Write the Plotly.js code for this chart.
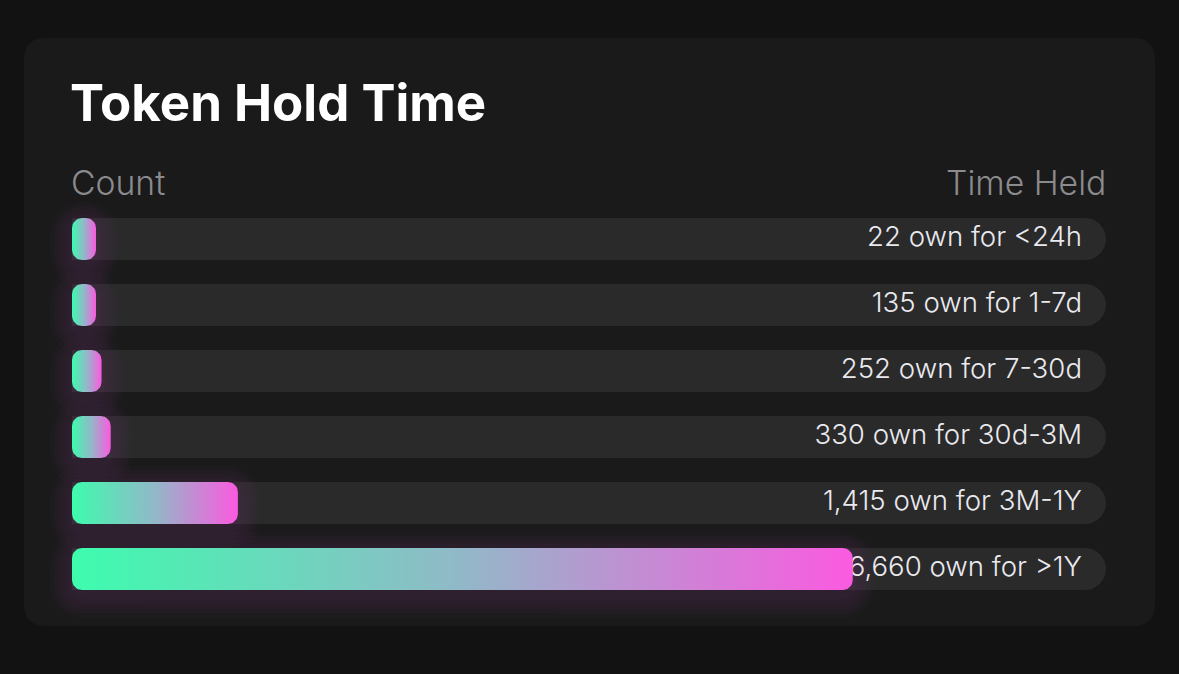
<!DOCTYPE html>
<html>
<head>
<meta charset="utf-8">
<script src="https://cdn.plot.ly/plotly-3.0.1.min.js"></script>
<style>
html,body{margin:0;padding:0;background:#121212;}
#chart{width:1179px;height:674px;}
</style>
</head>
<body>
<div id="chart"></div>
<script>
// ---- data ----
const periods = ["<24h", "1-7d", "7-30d", "30d-3M", "3M-1Y", ">1Y"];
const counts = [22, 135, 252, 330, 1415, 6660];
const titleText = "Token Hold Time";
const leftHeader = "Count";
const rightHeader = "Time Held";

// ---- layout constants ----
const W = 1179, H = 674;
const trackX0 = 72, trackX1 = 1106, rowsTop = 206, rowPx = 66;
const padPx = 30;
const M = {l: trackX0 - padPx, r: W - trackX1 - padPx, t: rowsTop - padPx, b: H - (rowsTop + rowPx * periods.length) - padPx};
const plotW = W - M.l - M.r, plotH = H - M.t - M.b;
const xMax = 8820;                 // scale end (track length)
const uPerPx = xMax / (trackX1 - trackX0);
const barPx = 42;
const halfH = (barPx / 2) / rowPx;
const minBarPx = 24;
const yPad = padPx / rowPx;

function px2paperX(px){ return (px - M.l) / plotW; }
function px2paperY(py){ return 1 - (py - M.t) / plotH; }

function roundRect(x0, x1, yc, hh, rPx, padP, dyPx){
  const pad = padP || 0, dy = (dyPx || 0) / rowPx;
  const ax0 = x0 - pad * uPerPx, ax1 = x1 + pad * uPerPx;
  const top = yc - hh - pad / rowPx + dy, bot = yc + hh + pad / rowPx + dy;
  const r = rPx + pad;
  const rx = r * uPerPx, ry = r / rowPx;
  const xs = [], ys = [];
  const corners = [
    [ax1 - rx, top + ry, -Math.PI/2, 0],
    [ax1 - rx, bot - ry, 0, Math.PI/2],
    [ax0 + rx, bot - ry, Math.PI/2, Math.PI],
    [ax0 + rx, top + ry, Math.PI, 1.5*Math.PI]
  ];
  corners.forEach(c => {
    for (let k = 0; k <= 8; k++){
      const a = c[2] + (c[3] - c[2]) * k / 8;
      xs.push(c[0] + rx * Math.cos(a));
      ys.push(c[1] + ry * Math.sin(a));
    }
  });
  xs.push(xs[0]); ys.push(ys[0]);
  return {x: xs, y: ys};
}

const rows = periods.map((p, i) => i);
const traces = [];

// tracks
traces.push({
  type: 'bar', orientation: 'h',
  x: rows.map(() => xMax), y: rows,
  width: barPx / rowPx,
  marker: {color: '#2a2a2b', cornerradius: 21, line: {width: 0}},
  hoverinfo: 'skip', showlegend: false
});

// glow
counts.forEach((v, i) => {
  const len = Math.max(v, minBarPx * uPerPx);
  [22, 18, 14, 10, 6, 3].forEach((pad) => {
    const rr = roundRect(0, len, i, halfH, 10, pad, 6);
    traces.push({
      type: 'scatter', mode: 'lines', x: rr.x, y: rr.y,
      fill: 'toself', fillcolor: 'rgba(200,70,190,0.028)',
      line: {width: 0}, hoverinfo: 'skip', showlegend: false
    });
  });
});

// value labels (under bars)
traces.push({
  type: 'scatter', mode: 'text',
  x: rows.map(() => xMax - 24 * uPerPx), y: rows,
  text: counts.map((c, i) => c.toLocaleString('en-US') + ' own for ' + periods[i]),
  textposition: 'middle left',
  textfont: {family: 'Inter, "Open Sans", sans-serif', size: 27.6, color: '#e9e9ee', weight: 300},
  hoverinfo: 'skip', showlegend: false
});

// value bars with gradient
counts.forEach((v, i) => {
  const len = Math.max(v, minBarPx * uPerPx);
  const rr = roundRect(0, len, i, halfH, 10, 0, 0);
  traces.push({
    type: 'scatter', mode: 'lines', x: rr.x, y: rr.y,
    fill: 'toself',
    fillgradient: {type: 'horizontal', colorscale: [[0, '#3dfcae'], [0.5, '#92b8c8'], [1, '#fb5ae0']]},
    line: {width: 0}, hoverinfo: 'skip', showlegend: false,
    name: periods[i]
  });
});

// card background
const cx0 = 24, cx1 = 1155, cy0 = 38, cy1 = 626, cr = 22;
function P(x, y){ return px2paperX(x).toFixed(5) + ',' + px2paperY(y).toFixed(5); }
const cardPath = 'M' + P(cx0 + cr, cy0) + ' L' + P(cx1 - cr, cy0) + ' Q' + P(cx1, cy0) + ' ' + P(cx1, cy0 + cr) +
  ' L' + P(cx1, cy1 - cr) + ' Q' + P(cx1, cy1) + ' ' + P(cx1 - cr, cy1) +
  ' L' + P(cx0 + cr, cy1) + ' Q' + P(cx0, cy1) + ' ' + P(cx0, cy1 - cr) +
  ' L' + P(cx0, cy0 + cr) + ' Q' + P(cx0, cy0) + ' ' + P(cx0 + cr, cy0) + ' Z';

const layout = {
  width: W, height: H,
  margin: M,
  paper_bgcolor: '#121212',
  plot_bgcolor: 'rgba(0,0,0,0)',
  showlegend: false,
  barmode: 'overlay',
  xaxis: {range: [-padPx * uPerPx, xMax + padPx * uPerPx], visible: false, fixedrange: true},
  yaxis: {range: [periods.length - 0.5 + yPad, -0.5 - yPad], visible: false, fixedrange: true},
  shapes: [{type: 'path', xref: 'paper', yref: 'paper', path: cardPath,
            fillcolor: '#1a1a1b', line: {width: 0}, layer: 'below'}],
  annotations: [
    {xref: 'paper', yref: 'paper', x: px2paperX(68), y: px2paperY(103), xanchor: 'left', yanchor: 'middle',
     text: '<b>' + titleText + '</b>', showarrow: false,
     font: {family: 'Inter, sans-serif', size: 51, color: '#ffffff'}},
    {xref: 'paper', yref: 'paper', x: px2paperX(69), y: px2paperY(182), xanchor: 'left', yanchor: 'middle',
     text: leftHeader, showarrow: false,
     font: {family: 'Inter, sans-serif', size: 33.7, color: '#8b8b8d', weight: 300}},
    {xref: 'paper', yref: 'paper', x: px2paperX(1108), y: px2paperY(182), xanchor: 'right', yanchor: 'middle',
     text: rightHeader, showarrow: false,
     font: {family: 'Inter, sans-serif', size: 33.7, color: '#8b8b8d', weight: 300}}
  ]
};

Plotly.newPlot('chart', traces, layout, {displayModeBar: false, staticPlot: true});
</script>
</body>
</html>
